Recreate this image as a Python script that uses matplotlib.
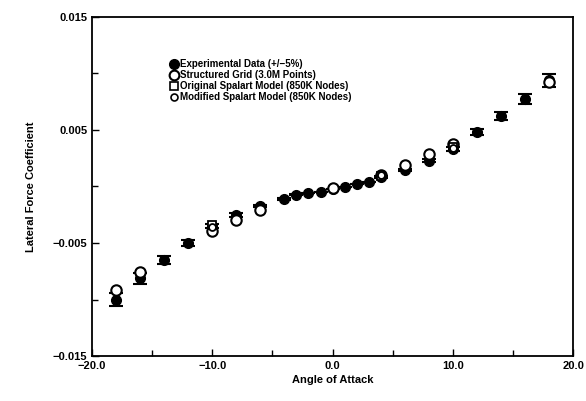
import numpy as np
import matplotlib.pyplot as plt
from matplotlib.ticker import FixedLocator
from matplotlib.lines import Line2D

plt.rcParams['font.family'] = ['Liberation Sans', 'DejaVu Sans']
plt.rcParams['font.weight'] = 'bold'

# experimental data (+/-5%)
exp_alpha = [-18, -16, -14, -12, -10, -8, -6, -4, -3, -2, -1, 0, 1, 2, 3, 4,
             6, 8, 10, 12, 14, 16, 18]
exp_cy = [-0.0100, -0.0081, -0.0065, -0.0050, -0.0035, -0.00252, -0.00173,
          -0.0011, -0.00075, -0.00058, -0.00049, -0.0002, -0.00004, 0.00022,
          0.0004, 0.00084, 0.00146, 0.00226, 0.00332, 0.00482, 0.00624,
          0.00774, 0.0094]

# structured grid (3.0M points)
sg_alpha = [-18, -16, -10, -8, -6, 0, 4, 6, 8, 10, 18]
sg_cy = [-0.00916, -0.00757, -0.0039, -0.0030, -0.0021, -0.00013, 0.0010,
         0.0019, 0.00288, 0.00376, 0.0092]

# original Spalart model (850K nodes)
os_alpha = [-10, 4, 10]
os_cy = [-0.0034, 0.0009, 0.0035]

# modified Spalart model (850K nodes)
ms_alpha = [-10, 4, 10]
ms_cy = [-0.0036, 0.0010, 0.0034]

labels = ['Experimental Data (+/\u22125%)', 'Structured Grid (3.0M Points)',
          'Original Spalart Model (850K Nodes)',
          'Modified Spalart Model (850K Nodes)']

exp_err = [abs(v) * 0.06 for v in exp_cy]

fig = plt.figure(figsize=(5.86, 4.01), dpi=100)
ax = fig.add_axes([0.157, 0.112, 0.821, 0.846])

ax.errorbar(exp_alpha, exp_cy, yerr=exp_err, fmt='o', color='black', ms=7,
            capsize=5, capthick=1.5, elinewidth=1.2, zorder=3)
ax.plot(sg_alpha, sg_cy, 'o', mfc='white', mec='black', mew=1.5, ms=7.5,
        zorder=4)
ax.plot(os_alpha, os_cy, 's', mfc='white', mec='black', mew=1.3, ms=6,
        zorder=5)
ax.plot(ms_alpha, ms_cy, 'o', mfc='white', mec='black', mew=1.3, ms=5,
        zorder=6)

ax.set_xlim(-20, 20)
ax.set_ylim(-0.015, 0.015)
ax.set_xticks([-20, -10, 0, 10, 20])
ax.set_xticklabels(['\u221220.0', '\u221210.0', '0.0', '10.0', '20.0'])
ax.xaxis.set_minor_locator(FixedLocator([-15, -5, 5, 15]))
ax.set_yticks([-0.015, -0.005, 0.005, 0.015])
ax.set_yticklabels(['\u22120.015', '\u22120.005', '0.005', '0.015'])
ax.yaxis.set_minor_locator(FixedLocator([-0.01, 0, 0.01]))
ax.tick_params(which='both', direction='in', labelsize=8)
ax.tick_params(which='major', length=5, width=1)
ax.tick_params(which='minor', length=4, width=1)
for s in ax.spines.values():
    s.set_linewidth(1.3)

ax.set_xlabel('Angle of Attack', fontsize=8, fontweight='bold', labelpad=3)
ax.set_ylabel('Lateral Force Coefficient', fontsize=8, fontweight='bold',
              labelpad=12)

handles = [
    Line2D([], [], ls='none', marker='o', color='black', ms=7),
    Line2D([], [], ls='none', marker='o', mfc='white', mec='black', mew=1.5, ms=7),
    Line2D([], [], ls='none', marker='s', mfc='white', mec='black', mew=1.2, ms=6),
    Line2D([], [], ls='none', marker='o', mfc='white', mec='black', mew=1.2, ms=5),
]
ax.legend(handles, labels, loc='upper left', bbox_to_anchor=(0.16, 0.875),
          frameon=False, fontsize=7, handletextpad=0.1, handlelength=1.0,
          labelspacing=0.1, borderpad=0, borderaxespad=0)

fig.savefig('out.png', dpi=100)
